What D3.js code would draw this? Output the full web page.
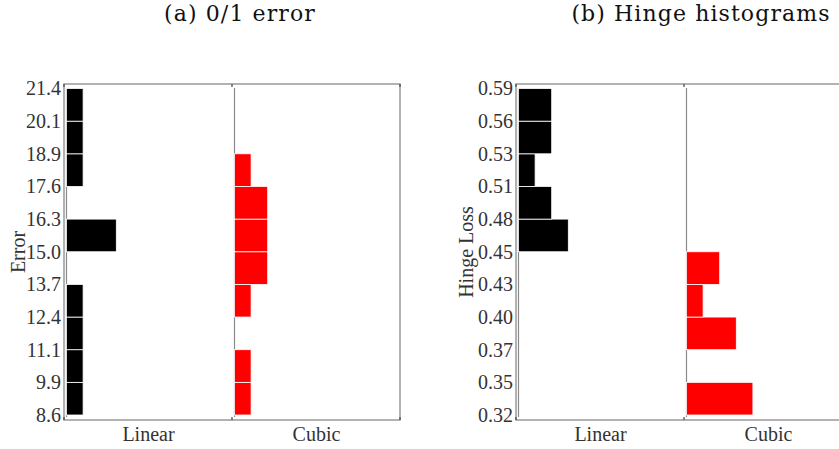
<!DOCTYPE html>
<html>
<head>
<meta charset="utf-8">
<script src="https://cdn.jsdelivr.net/npm/d3@7"></script>
<style>
  html, body { margin: 0; padding: 0; background: #fff; }
  svg { display: block; }
  text { font-family: "Liberation Serif", "Times New Roman", serif; }
</style>
</head>
<body>
<svg id="chart" width="839" height="449"></svg>
<script>
// ---- data ----
const categories = ["Linear", "Cubic"];
const errorTickLabels = ["8.6", "9.9", "11.1", "12.4", "13.7", "15.0", "16.3", "17.6", "18.9", "20.1", "21.4"];
const hingeTickLabels = ["0.32", "0.35", "0.37", "0.40", "0.43", "0.45", "0.48", "0.51", "0.53", "0.56", "0.59"];
// histogram counts per bin (bottom bin first)
const errorLinear = [1, 1, 1, 1, 0, 3, 0, 1, 1, 1];
const errorCubic  = [1, 1, 0, 1, 2, 2, 2, 1, 0, 0];
const hingeLinear = [0, 0, 0, 0, 0, 3, 2, 1, 2, 2];
const hingeCubic  = [4, 0, 3, 1, 2, 0, 0, 0, 0, 0];
const seriesColors = ["#000000", "#ff0000"];

const panels = [
  { title: "(a) 0/1 error", ylabel: "Error", ticks: errorTickLabels, series: [errorLinear, errorCubic], x0: 64, labelOff: 39, titleDx: 8 },
  { title: "(b) Hinge histograms", ylabel: "Hinge Loss", ticks: hingeTickLabels, series: [hingeLinear, hingeCubic], x0: 516, labelOff: 43, titleDx: 17 }
];

const svg = d3.select("#chart");
const W = 336, frameTop = 84, frameBottom = 420;

panels.forEach(p => {
  const g = svg.append("g").attr("transform", `translate(${p.x0},0)`);
  const nBins = p.ticks.length - 1;
  const x = d3.scaleLinear().domain([0, categories.length]).range([0, W]);
  const y = d3.scaleLinear().domain([0, nBins]).range([415, 88.5]);
  const cnt = d3.scaleLinear().domain([0, 1]).range([0, 16.6]);
  const base = 2.5;

  // frame
  g.append("rect").attr("x", 0).attr("y", frameTop).attr("width", W).attr("height", frameBottom - frameTop)
    .attr("fill", "none").attr("stroke", "#8a8a8a").attr("stroke-width", 1.3);

  // category baselines
  categories.forEach((c, i) => {
    g.append("line").attr("x1", x(i) + base).attr("x2", x(i) + base)
      .attr("y1", 88).attr("y2", 417).attr("stroke", "#8a8a8a").attr("stroke-width", 1.2);
  });

  // bars
  p.series.forEach((s, i) => {
    g.append("g").selectAll("rect")
      .data(s.map((v, b) => ({ v, b })).filter(d => d.v > 0))
      .join("rect")
      .attr("x", x(i) + base)
      .attr("y", d => y(d.b + 1))
      .attr("width", d => cnt(d.v))
      .attr("height", d => y(d.b) - y(d.b + 1))
      .attr("fill", seriesColors[i])
      .attr("stroke", "#fff").attr("stroke-width", 0.8);
  });

  // x tick marks (top & bottom)
  d3.range(categories.length + 1).forEach(t => {
    g.append("line").attr("x1", x(t)).attr("x2", x(t)).attr("y1", frameTop).attr("y2", frameTop + 3)
      .attr("stroke", "#444").attr("stroke-width", 1.2);
    g.append("line").attr("x1", x(t)).attr("x2", x(t)).attr("y1", frameBottom).attr("y2", frameBottom - 3)
      .attr("stroke", "#444").attr("stroke-width", 1.2);
  });

  // y axis labels
  const yAxis = d3.axisLeft(y).tickValues(d3.range(p.ticks.length))
    .tickFormat(i => p.ticks[i]).tickSize(0).tickPadding(3);
  const ya = g.append("g").call(yAxis);
  ya.select(".domain").remove();
  ya.selectAll("text").attr("font-size", 20).attr("fill", "#333")
    .style("font-family", '"Liberation Serif", serif');

  // category labels
  const xAxis = d3.axisBottom(x).tickValues(categories.map((c, i) => i + 0.5))
    .tickFormat((d, i) => categories[i]).tickSize(0).tickPadding(0);
  const xa = g.append("g").attr("transform", `translate(0,${frameBottom})`).call(xAxis);
  xa.select(".domain").remove();
  xa.selectAll("text").attr("font-size", 20).attr("fill", "#333").attr("dy", null).attr("y", 21)
    .style("font-family", '"Liberation Serif", serif');

  // y label
  g.append("text").attr("transform", `translate(${-p.labelOff},252) rotate(-90)`)
    .attr("text-anchor", "middle").attr("font-size", 20).attr("fill", "#333").text(p.ylabel);

  // title
  g.append("text").attr("x", W / 2 + p.titleDx).attr("y", 21).attr("text-anchor", "middle")
    .attr("font-size", 22).attr("letter-spacing", 1.1).attr("fill", "#111")
    .style("font-family", '"DejaVu Serif", serif').style("font-weight", 300).text(p.title);
});
</script>
</body>
</html>
